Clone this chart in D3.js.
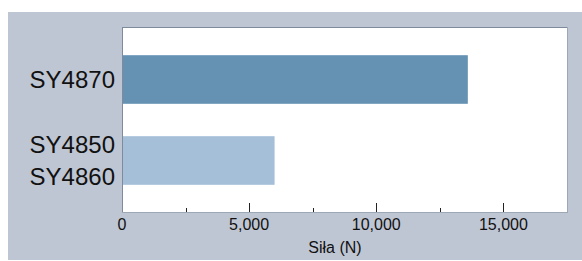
<!DOCTYPE html>
<html>
<head>
<meta charset="utf-8">
<script src="https://cdn.jsdelivr.net/npm/d3@7"></script>
<style>
  body { margin: 0; background: #fff; }
  text { font-family: "Liberation Sans", Arial, sans-serif; fill: #111; }
</style>
</head>
<body>
<div id="chart"></div>
<script>
// data
var products = [["SY4870"], ["SY4850", "SY4860"]];
var forces = [13600, 6000];
var barColors = ["#6592b3", "#a4bfd7"];
var majorTicks = [0, 5000, 10000, 15000];
var minorTicks = [2500, 7500, 12500, 17500];
var xTitle = "Siła (N)";

var W = 582, H = 261;
var plot = { left: 122, top: 27, right: 567, bottom: 212 };

var svg = d3.select('#chart').append('svg')
    .attr('width', W)
    .attr('height', H);

// gray panel
svg.append('rect')
    .attr('x', 8).attr('y', 12)
    .attr('width', W - 8).attr('height', 248)
    .style('fill', '#bfc6d3');

// plot area
svg.append('rect')
    .attr('x', plot.left).attr('y', plot.top)
    .attr('width', plot.right - plot.left).attr('height', plot.bottom - plot.top)
    .style('fill', '#fff');

var x = d3.scaleLinear()
    .domain([0, 17500])
    .range([plot.left, plot.right]);

var y = d3.scaleBand()
    .domain(d3.range(products.length))
    .range([39, 201])
    .paddingInner(0.4)
    .paddingOuter(0.2);

svg.selectAll('rect.bar')
    .data(forces)
    .enter()
    .append('rect')
      .attr('class', 'bar')
      .attr('x', x(0))
      .attr('y', function(d, i) { return y(i); })
      .attr('width', function(d) { return x(d) - x(0); })
      .attr('height', y.bandwidth())
      .style('fill', function(d, i) { return barColors[i]; });

// frame: darker top/left, lighter right/bottom
svg.append('line')
    .attr('x1', plot.left + 0.5).attr('x2', plot.left + 0.5)
    .attr('y1', plot.top).attr('y2', plot.bottom)
    .style('stroke', '#7d8b9c');
svg.append('line')
    .attr('x1', plot.left).attr('x2', plot.right)
    .attr('y1', plot.top + 0.5).attr('y2', plot.top + 0.5)
    .style('stroke', '#7d8b9c');
svg.append('line')
    .attr('x1', plot.right + 0.5).attr('x2', plot.right + 0.5)
    .attr('y1', plot.top).attr('y2', plot.bottom + 1)
    .style('stroke', '#9da7b5');
svg.append('line')
    .attr('x1', plot.left).attr('x2', plot.right + 1)
    .attr('y1', plot.bottom + 0.5).attr('y2', plot.bottom + 0.5)
    .style('stroke', '#9da7b5');

// ticks pointing into the plot
svg.selectAll('line.major')
    .data(majorTicks.slice(1))
    .enter()
    .append('line')
      .attr('x1', function(d) { return Math.round(x(d)) + 0.5; })
      .attr('x2', function(d) { return Math.round(x(d)) + 0.5; })
      .attr('y1', plot.bottom - 9).attr('y2', plot.bottom)
      .style('stroke', '#222');
svg.selectAll('line.minor')
    .data(minorTicks.slice(0, 3))
    .enter()
    .append('line')
      .attr('x1', function(d) { return Math.round(x(d)) + 0.5; })
      .attr('x2', function(d) { return Math.round(x(d)) + 0.5; })
      .attr('y1', plot.bottom - 4).attr('y2', plot.bottom)
      .style('stroke', '#222');

var fmt = d3.format(',');
svg.selectAll('text.tick')
    .data(majorTicks)
    .enter()
    .append('text')
      .attr('x', function(d) { return x(d); })
      .attr('y', 230)
      .attr('text-anchor', 'middle')
      .style('font-size', '16px')
      .text(function(d) { return fmt(d); });

svg.append('text')
    .attr('x', 335)
    .attr('y', 252.5)
    .attr('text-anchor', 'middle')
    .style('font-size', '16px')
    .text(xTitle);

// category labels, multi-line where needed
products.forEach(function(lines, i) {
    var cy = y(i) + y.bandwidth() / 2;
    var lh = 31.5;
    var t = svg.append('text')
        .attr('text-anchor', 'end')
        .style('font-size', '24px');
    lines.forEach(function(s, j) {
        t.append('tspan')
            .attr('x', 115)
            .attr('y', cy + (j - (lines.length - 1) / 2) * lh + 8.6)
            .text(s);
    });
});
</script>
</body>
</html>
